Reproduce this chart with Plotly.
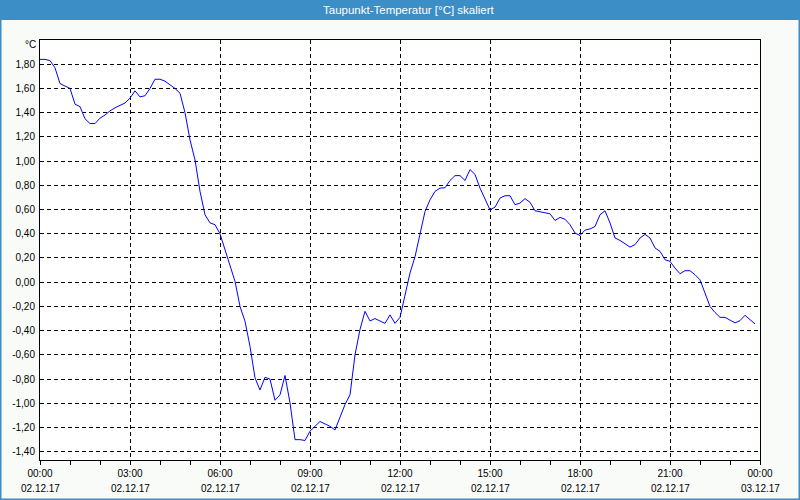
import plotly.graph_objects as go
import pandas as pd

# Dew point values, 10-minute steps starting 02.12.17 00:00
dew_point = [
    1.84, 1.84, 1.83, 1.77, 1.64, 1.62, 1.60, 1.47, 1.45, 1.35,
    1.31, 1.31, 1.355, 1.38, 1.415, 1.44, 1.46, 1.48, 1.52, 1.58,
    1.53, 1.54, 1.60, 1.676, 1.676, 1.66, 1.63, 1.60, 1.56, 1.40,
    1.175, 1.01, 0.75, 0.557, 0.49, 0.475, 0.40, 0.27, 0.12, 0.007,
    -0.20, -0.323, -0.53, -0.79, -0.89, -0.785, -0.80, -0.975, -0.93, -0.77,
    -0.996, -1.30, -1.30, -1.307, -1.23, -1.19, -1.15, -1.17, -1.19, -1.22,
    -1.12, -1.01, -0.93, -0.60, -0.39, -0.24, -0.32, -0.30, -0.32, -0.34,
    -0.27, -0.34, -0.29, -0.10, 0.076, 0.21, 0.406, 0.584, 0.68, 0.75,
    0.777, 0.78, 0.84, 0.88, 0.88, 0.84, 0.93, 0.89, 0.777, 0.68,
    0.598, 0.62, 0.695, 0.714, 0.714, 0.64, 0.653, 0.69, 0.66, 0.59,
    0.58, 0.575, 0.565, 0.51, 0.535, 0.52, 0.475, 0.406, 0.386, 0.43,
    0.44, 0.46, 0.557, 0.59, 0.49, 0.365, 0.345, 0.318, 0.29, 0.31,
    0.365, 0.395, 0.365, 0.283, 0.255, 0.186, 0.172, 0.117, 0.07, 0.095,
    0.095, 0.062, 0.02, -0.09, -0.20, -0.25, -0.29, -0.29, -0.31, -0.336,
    -0.317, -0.273, -0.309, -0.344,
]
times = pd.date_range("2017-12-02 00:00", periods=len(dew_point), freq="10min")

x_tick_vals = ["2017-12-02 00:00", "2017-12-02 03:00", "2017-12-02 06:00",
               "2017-12-02 09:00", "2017-12-02 12:00", "2017-12-02 15:00",
               "2017-12-02 18:00", "2017-12-02 21:00", "2017-12-03 00:00"]
x_tick_times = ["00:00", "03:00", "06:00", "09:00", "12:00", "15:00", "18:00", "21:00", "00:00"]
x_tick_dates = ["02.12.17", "02.12.17", "02.12.17", "02.12.17", "02.12.17",
                "02.12.17", "02.12.17", "02.12.17", "03.12.17"]

y_tick_vals = [-1.4, -1.2, -1.0, -0.8, -0.6, -0.4, -0.2, 0.0, 0.2, 0.4,
               0.6, 0.8, 1.0, 1.2, 1.4, 1.6, 1.8]
y_tick_labels = ["-1,40", "-1,20", "-1,00", "-0,80", "-0,60", "-0,40", "-0,20",
                 "0,00", "0,20", "0,40", "0,60", "0,80", "1,00", "1,20",
                 "1,40", "1,60", "1,80"]

title_text = "Taupunkt-Temperatur [°C] skaliert"
unit_text = "°C"

FONT = "Tahoma, Liberation Sans, Arial, sans-serif"
W, H = 800, 500
ML, MR, MT, MB = 40, 40, 40, 40
PW, PH = W - ML - MR, H - MT - MB


def px_x(p):
    return (p - ML) / PW


def px_y(p):
    return (H - MB - p) / PH


fig = go.Figure()
fig.add_trace(go.Scatter(x=times, y=dew_point, mode="lines",
                         line=dict(color="#0000ff", width=1),
                         hoverinfo="skip", showlegend=False))

shapes = [
    # title bar
    dict(type="rect", xref="paper", yref="paper",
         x0=px_x(0), x1=px_x(W), y0=px_y(20), y1=px_y(0),
         fillcolor="#3c8ec6", line=dict(width=0), layer="below"),
    # outer frame
    dict(type="rect", xref="paper", yref="paper",
         x0=px_x(0.75), x1=px_x(W - 0.75), y0=px_y(H - 0.75), y1=px_y(0.75),
         fillcolor="rgba(0,0,0,0)", line=dict(color="#3c8ec6", width=1.5)),
]

annotations = [
    dict(text=title_text, xref="paper", yref="paper", x=px_x(409), y=px_y(9.5),
         xanchor="center", yanchor="middle", showarrow=False,
         font=dict(family=FONT, size=11.5, color="white")),
    dict(text=unit_text, xref="paper", yref="paper", x=px_x(37.5), y=px_y(44.5),
         xanchor="right", yanchor="middle", showarrow=False,
         font=dict(family=FONT, size=10, color="black")),
]
for tv, td in zip(x_tick_vals, x_tick_dates):
    annotations.append(dict(text=td, xref="x", yref="paper", x=tv, y=px_y(488.5),
                            xanchor="center", yanchor="middle", showarrow=False,
                            font=dict(family=FONT, size=10, color="black")))

fig.update_layout(
    width=W, height=H,
    margin=dict(l=ML, r=MR, t=MT, b=MB, pad=0),
    paper_bgcolor="#f9fbf9",
    plot_bgcolor="#ffffff",
    shapes=shapes,
    annotations=annotations,
    showlegend=False,
    font=dict(family=FONT, size=10, color="black"),
    xaxis=dict(
        type="date",
        range=["2017-12-02 00:00", "2017-12-03 00:00"],
        tickvals=x_tick_vals, ticktext=x_tick_times,
        ticks="outside", ticklen=4, tickcolor="black", tickwidth=1,
        minor=dict(dtick=3600000, ticks="outside", ticklen=4, tickcolor="black",
                   showgrid=False),
        showgrid=True, gridcolor="black", gridwidth=1, griddash="4px,3px",
        showline=True, linecolor="black", linewidth=1, mirror=True,
        zeroline=False, tickfont=dict(family=FONT, size=10, color="black"),
        ticklabelstandoff=0,
    ),
    yaxis=dict(
        range=[-1.468, 2.0],
        tickvals=y_tick_vals, ticktext=y_tick_labels,
        ticks="",
        showgrid=True, gridcolor="black", gridwidth=1, griddash="4px,3px",
        showline=True, linecolor="black", linewidth=1, mirror=True,
        zeroline=False, tickfont=dict(family=FONT, size=10, color="black"),
        ticklabelstandoff=2,
    ),
)

fig.write_html("out.html", config=dict(displayModeBar=False))
